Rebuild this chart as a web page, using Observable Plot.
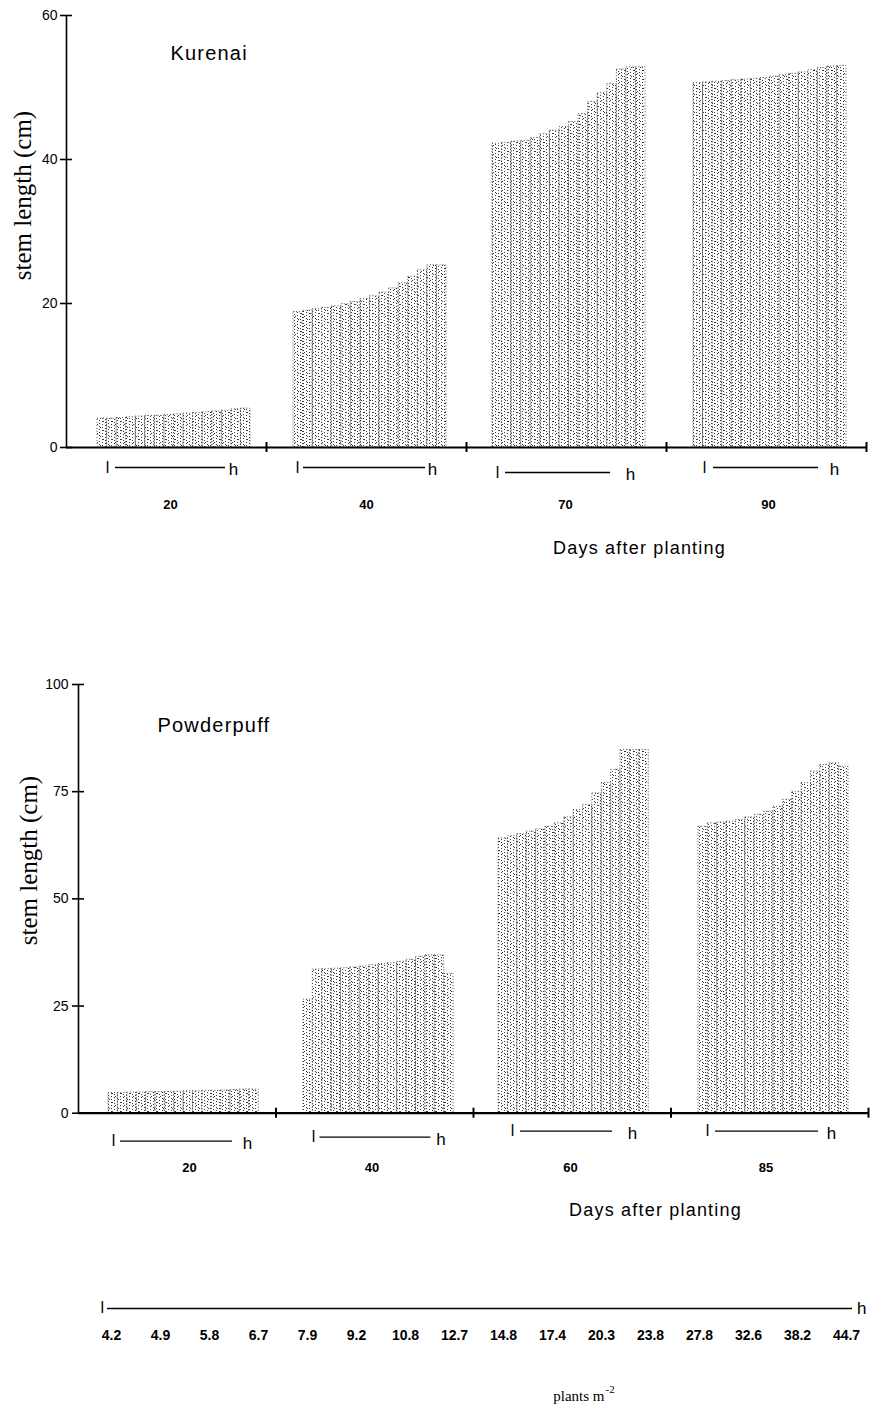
<!DOCTYPE html>
<html>
<head>
<meta charset="utf-8">
<script src="https://cdn.jsdelivr.net/npm/d3@7"></script>
<script src="https://cdn.jsdelivr.net/npm/@observablehq/plot@0.6"></script>
<style>
  html, body { margin: 0; padding: 0; background: #fff; }
  #wrap { width: 872px; height: 1407px; overflow: hidden; background: #fff; }
  #wrap svg { display: block; }
</style>
</head>
<body>
<div id="wrap"></div>
<script>
// ---------------- data ----------------
const densities = [4.2, 4.9, 5.8, 6.7, 7.9, 9.2, 10.8, 12.7, 14.8, 17.4, 20.3, 23.8, 27.8, 32.6, 38.2, 44.7];

const kurenaiDays = [20, 40, 70, 90];
const kurenai20 = [4.0, 4.0, 4.1, 4.2, 4.3, 4.4, 4.4, 4.5, 4.6, 4.7, 4.8, 4.9, 5.0, 5.1, 5.3, 5.4];
const kurenai40 = [18.8, 19.0, 19.2, 19.4, 19.6, 19.9, 20.2, 20.6, 21.0, 21.5, 22.1, 22.8, 23.7, 24.6, 25.3, 25.3];
const kurenai70 = [42.2, 42.3, 42.5, 42.6, 43.0, 43.5, 44.0, 44.5, 45.2, 46.3, 48.0, 49.2, 50.5, 52.5, 52.8, 52.8];
const kurenai90 = [50.6, 50.7, 50.8, 50.9, 51.0, 51.1, 51.2, 51.3, 51.5, 51.7, 51.9, 52.1, 52.4, 52.7, 52.9, 53.0];

const powderpuffDays = [20, 40, 60, 85];
const powderpuff20 = [4.7, 4.7, 4.8, 4.8, 4.9, 4.9, 5.0, 5.0, 5.1, 5.1, 5.2, 5.2, 5.3, 5.4, 5.5, 5.5];
const powderpuff40 = [26.5, 33.5, 33.6, 33.7, 33.8, 34.0, 34.2, 34.5, 34.8, 35.0, 35.3, 35.8, 36.5, 36.8, 36.8, 32.5];
const powderpuff60 = [64.1, 64.6, 65.1, 65.7, 66.2, 66.8, 67.6, 69.0, 70.7, 71.9, 74.6, 77.0, 80.1, 84.7, 84.7, 84.7];
const powderpuff85 = [66.8, 67.6, 67.8, 68.0, 68.4, 69.0, 69.6, 70.3, 71.5, 73.1, 75.0, 77.0, 79.7, 81.2, 81.6, 80.8];

const kurenaiTicks = [0, 20, 40, 60];
const powderpuffTicks = [0, 25, 50, 75, 100];

// ---------------- styling ----------------
const SANS = "'Liberation Sans', Arial, Helvetica, sans-serif";
const SERIF = "'Liberation Serif', 'Times New Roman', serif";
const NS = "http://www.w3.org/2000/svg";

function addPattern(svg, id) {
  const defs = document.createElementNS(NS, "defs");
  const pat = document.createElementNS(NS, "pattern");
  pat.setAttribute("id", id);
  pat.setAttribute("patternUnits", "userSpaceOnUse");
  pat.setAttribute("width", 9);
  pat.setAttribute("height", 9);
  const dots = [[0,0],[3,1],[6,2],[0,3],[3,4],[6,5],[0,6],[3,7],[6,8],[1,4],[7,1],[4,7]];
  for (const [x, y] of dots) {
    const r = document.createElementNS(NS, "rect");
    r.setAttribute("x", x); r.setAttribute("y", y);
    r.setAttribute("width", 1); r.setAttribute("height", 1);
    r.setAttribute("fill", "#3a3a3a");
    pat.appendChild(r);
  }
  defs.appendChild(pat);
  svg.insertBefore(defs, svg.firstChild);
}

function panel(o) {
  const n = densities.length;
  const groupPx = (o.right - o.left) / 4;
  const pu = (o.zeroY - o.marginTop) / o.yMax;      // px per y unit
  const below = px => -px / pu;                     // px below baseline -> y units
  const gx = (g, px) => g + px / groupPx;           // px offset in group -> x units
  const bw = o.span / n;

  const rows = o.days.flatMap((day, g) =>
    o.series[g].map((v, i) => ({g, i, day, density: densities[i], value: v})));

  const L = o.lh;
  const svg = Plot.plot({
    width: 872,
    height: o.height,
    marginTop: o.marginTop,
    marginBottom: o.height - o.zeroY,
    marginLeft: o.left,
    marginRight: 872 - o.right,
    x: {domain: [0, 4], axis: null},
    y: {domain: [0, o.yMax], axis: null},
    style: {fontFamily: SANS, background: "white", color: "#000", overflow: "visible"},
    marks: [
      Plot.rect(rows, {
        x1: d => d.g + o.start[d.g] + d.i * bw,
        x2: d => d.g + o.start[d.g] + (d.i + 1) * bw,
        y1: 0, y2: "value",
        fill: `url(#${o.pid})`,
        stroke: "#444", strokeWidth: 0.9, strokeDasharray: "1 2"
      }),
      // axes
      Plot.ruleY([0], {x1: 0, x2: 4, stroke: "#000", strokeWidth: 2.2}),
      Plot.ruleX([0], {y1: 0, y2: o.yMax, stroke: "#000", strokeWidth: 1.6}),
      Plot.ruleY(o.ticks, {y: d => d, x1: 0, x2: 0, insetLeft: -6, insetRight: -6, stroke: "#000", strokeWidth: 1.6}),
      Plot.text(o.ticks, {x: 0, y: d => d, text: d => String(d), textAnchor: "end", dx: -o.tickPad, fontSize: 14}),
      Plot.ruleX([1, 2, 3, 4], {x: d => d, y1: 0, y2: 0, insetTop: -5, insetBottom: -5, stroke: "#000", strokeWidth: 2}),
      // low -> high density markers under each group
      Plot.text(o.days, {x: (d, i) => gx(i, L.l[i]), y: (d, i) => below(L.y[i]), text: () => "l", fontSize: 16}),
      Plot.ruleY(o.days, {y: (d, i) => below(L.y[i]), x1: (d, i) => gx(i, L.a[i]), x2: (d, i) => gx(i, L.b[i]), stroke: "#000", strokeWidth: 1.3}),
      Plot.text(o.days, {x: (d, i) => gx(i, L.h[i]), y: (d, i) => below(L.y[i] + 2), text: () => "h", fontSize: 17}),
      // day labels
      Plot.text(o.days, {x: (d, i) => gx(i, o.dayX[i]), y: below(o.dayY), text: d => String(d), fontSize: 13, fontWeight: "bold"}),
      Plot.text(["Days after planting"], {x: gx(0, o.daysTitleX), y: below(o.daysTitleY), fontSize: 18}),
      // cultivar title
      Plot.text([o.title], {frameAnchor: "top-left", dx: o.titleDx, dy: o.titleDy, textAnchor: "start", fontSize: 20}),
      // y axis title
      Plot.text(["stem length (cm)"], {frameAnchor: "top-left", dx: o.yTitleDx, dy: o.yTitleDy, rotate: -90, textAnchor: "middle", fontFamily: SERIF, fontSize: 25})
    ]
  });
  addPattern(svg, o.pid);
  svg.querySelectorAll("text").forEach(t => {
    const s = t.textContent;
    if (s === "Days after planting") t.setAttribute("letter-spacing", "1.2");
    if (s === o.title) t.setAttribute("letter-spacing", "1.2");
  });
  return svg;
}

const wrap = document.getElementById("wrap");

wrap.appendChild(panel({
  pid: "stipA",
  title: "Kurenai",
  days: kurenaiDays,
  series: [kurenai20, kurenai40, kurenai70, kurenai90],
  yMax: 60, ticks: kurenaiTicks, tickPad: 9,
  height: 600, marginTop: 15, zeroY: 447, left: 66, right: 866,
  start: [0.155, 0.135, 0.13, 0.135], span: 0.765,
  lh: {l: [41, 31, 31, 38], a: [49, 37, 39, 47], b: [159, 159, 144, 152], h: [167, 166, 164, 168], y: [20, 20, 25, 20]},
  dayX: [104, 100, 99, 102], dayY: 57,
  daysTitleX: 573, daysTitleY: 101,
  titleDx: 104, titleDy: 30,
  yTitleDx: -53, yTitleDy: 180
}));

wrap.appendChild(panel({
  pid: "stipB",
  title: "Powderpuff",
  days: powderpuffDays,
  series: [powderpuff20, powderpuff40, powderpuff60, powderpuff85],
  yMax: 100, ticks: powderpuffTicks, tickPad: 10,
  height: 650, marginTop: 84, zeroY: 512.7, left: 78, right: 868,
  start: [0.152, 0.139, 0.127, 0.139], span: 0.76,
  lh: {l: [35, 37.5, 39, 36.5], a: [42, 44, 47, 44.5], b: [154, 155, 139, 147.5], h: [169, 165, 159, 160.5], y: [28, 24, 18, 18]},
  dayX: [111, 96, 97, 95], dayY: 55,
  daysTitleX: 577, daysTitleY: 97,
  titleDx: 79, titleDy: 33,
  yTitleDx: -59, yTitleDy: 176
}));

// ---------------- density legend ----------------
const legend = Plot.plot({
  width: 872, height: 157,
  marginTop: 0, marginBottom: 0, marginLeft: 107, marginRight: 22,
  x: {type: "point", domain: densities.map(String), padding: 0, axis: null},
  y: {domain: [0, 157], range: [0, 157], axis: null},
  style: {fontFamily: SANS, background: "white", color: "#000", overflow: "visible"},
  marks: [
    Plot.ruleY([58], {y: d => d, insetLeft: 0, insetRight: -2, stroke: "#000", strokeWidth: 1.3}),
    Plot.text(["l"], {frameAnchor: "left", y: 57, dx: -7, fontSize: 16}),
    Plot.text(["h"], {frameAnchor: "right", y: 58, dx: 16, fontSize: 17}),
    Plot.text(densities, {x: d => String(d), y: 85, text: d => d.toFixed(1), fontSize: 14, fontWeight: "bold"}),
    Plot.text(["plants m"], {frameAnchor: "left", y: 146, dx: 497, textAnchor: "end", fontFamily: SERIF, fontSize: 15}),
    Plot.text(["-2"], {frameAnchor: "left", y: 139, dx: 498, textAnchor: "start", fontFamily: SERIF, fontSize: 11})
  ]
});
wrap.appendChild(legend);
</script>
</body>
</html>
